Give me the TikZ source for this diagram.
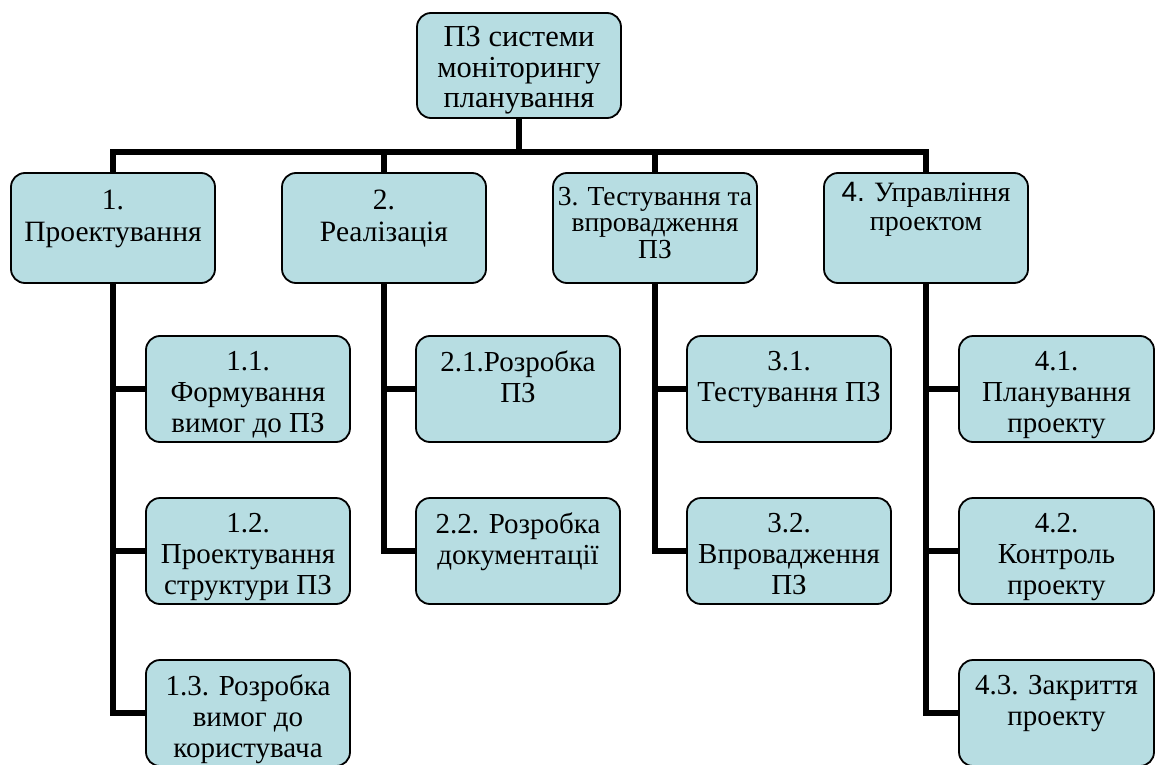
\documentclass[tikz,border=0pt]{standalone}
\usepackage{fontspec}
\setmainfont{Liberation Serif}
\newfontfamily\timesf{Liberation Serif}
\newfontfamily\arialf{Liberation Sans}
\usetikzlibrary{calc}
\definecolor{boxfill}{RGB}{183,221,226}
\pgfdeclarelayer{bg}
\pgfsetlayers{bg,main}
\begin{document}
\begin{tikzpicture}[x=1pt,y=-1pt,
  box/.style={draw=black, line width=1.8pt, fill=boxfill, rounded corners=14pt, inner sep=0pt, outer sep=0pt},
  rootbox/.style={box, minimum width=204pt, minimum height=105pt},
  topbox/.style={box, minimum width=204pt, minimum height=110pt},
  subbox/.style={box, minimum width=204pt, minimum height=106pt},
  lastbox/.style={box, minimum width=195pt, minimum height=106pt},
  lbl/.style={align=center, inner sep=0pt, anchor=north, font=\timesf\fontsize{29}{31}\selectfont},
  conn/.style={line width=6pt, line join=miter, line cap=butt}]
\useasboundingbox (0,0) rectangle (1156,765);

% root
\node[rootbox] (root) at (519,65.5) {};
\node[lbl, font=\timesf\fontsize{30.5}{30.7}\selectfont] (troot) at ([yshift=-13pt]root.north) {ПЗ системи\\моніторингу\\планування};

% level 1
\node[topbox] (b1) at (113,228) {};
\node[topbox] (b2) at (384,228) {};
\node[topbox] (b3) at (655,228) {};
\node[topbox] (b4) at (926,228) {};
\node[lbl, font=\timesf\fontsize{29.5}{32}\selectfont] (tb1) at ([yshift=-17pt]b1.north) {1.\\Проектування};
\node[lbl, font=\timesf\fontsize{29.5}{32}\selectfont] (tb2) at ([yshift=-17pt]b2.north) {2.\\Реалізація};
\node[lbl, font=\timesf\fontsize{27.5}{26.5}\selectfont] (tb3) at ([yshift=-14pt]b3.north) {3. Тестування та\\впровадження\\ПЗ};
\node[lbl, font=\timesf\fontsize{28}{29}\selectfont] (tb4) at ([yshift=-9pt]b4.north) {{\arialf 4.} Управління\\проектом};

% level 2
\node[subbox] (s11) at (248,389) {};
\node[subbox] (s12) at (248,551) {};
\node[subbox] (s13) at (248,713) {};
\node[subbox] (s21) at (518,389) {};
\node[subbox] (s22) at (518,551) {};
\node[subbox] (s31) at (789,389) {};
\node[subbox] (s32) at (789,551) {};
\node[lastbox] (s41) at (1056.5,389) {};
\node[lastbox] (s42) at (1056.5,551) {};
\node[lastbox] (s43) at (1056.5,713) {};

\node[lbl] (ts11) at ([yshift=-15pt]s11.north) {1.1.\\Формування\\вимог до ПЗ};
\node[lbl] (ts12) at ([yshift=-15pt]s12.north) {1.2.\\Проектування\\структури ПЗ};
\node[lbl] (ts13) at ([yshift=-15pt]s13.north) {1.3. Розробка\\вимог до\\користувача};
\node[lbl] (ts21) at ([yshift=-15pt]s21.north) {2.1.Розробка\\ПЗ};
\node[lbl] (ts22) at ([yshift=-15pt]s22.north) {2.2. Розробка\\документації};
\node[lbl] (ts31) at ([yshift=-15pt]s31.north) {3.1.\\Тестування ПЗ};
\node[lbl] (ts32) at ([yshift=-15pt]s32.north) {3.2.\\Впровадження\\ПЗ};
\node[lbl] (ts41) at ([yshift=-15pt]s41.north) {4.1.\\Планування\\проекту};
\node[lbl] (ts42) at ([yshift=-15pt]s42.north) {4.2.\\Контроль\\проекту};
\node[lbl] (ts43) at ([yshift=-15pt]s43.north) {4.3. Закриття\\проекту};

\coordinate (bar) at (519,152);
\begin{pgfonlayer}{bg}
\draw[conn] (root.south) -- (bar);
\draw[conn] (b1.north) |- (bar) -| (b4.north);
\draw[conn] (b2.north) -- (b2.north |- bar);
\draw[conn] (b3.north) -- (b3.north |- bar);
\draw[conn] (b1.south) |- (s11.west);
\draw[conn] (b1.south) |- (s12.west);
\draw[conn] (b1.south) |- (s13.west);
\draw[conn] (b2.south) |- (s21.west);
\draw[conn] (b2.south) |- (s22.west);
\draw[conn] (b3.south) |- (s31.west);
\draw[conn] (b3.south) |- (s32.west);
\draw[conn] (b4.south) |- (s41.west);
\draw[conn] (b4.south) |- (s42.west);
\draw[conn] (b4.south) |- (s43.west);
\end{pgfonlayer}
\end{tikzpicture}
\end{document}
